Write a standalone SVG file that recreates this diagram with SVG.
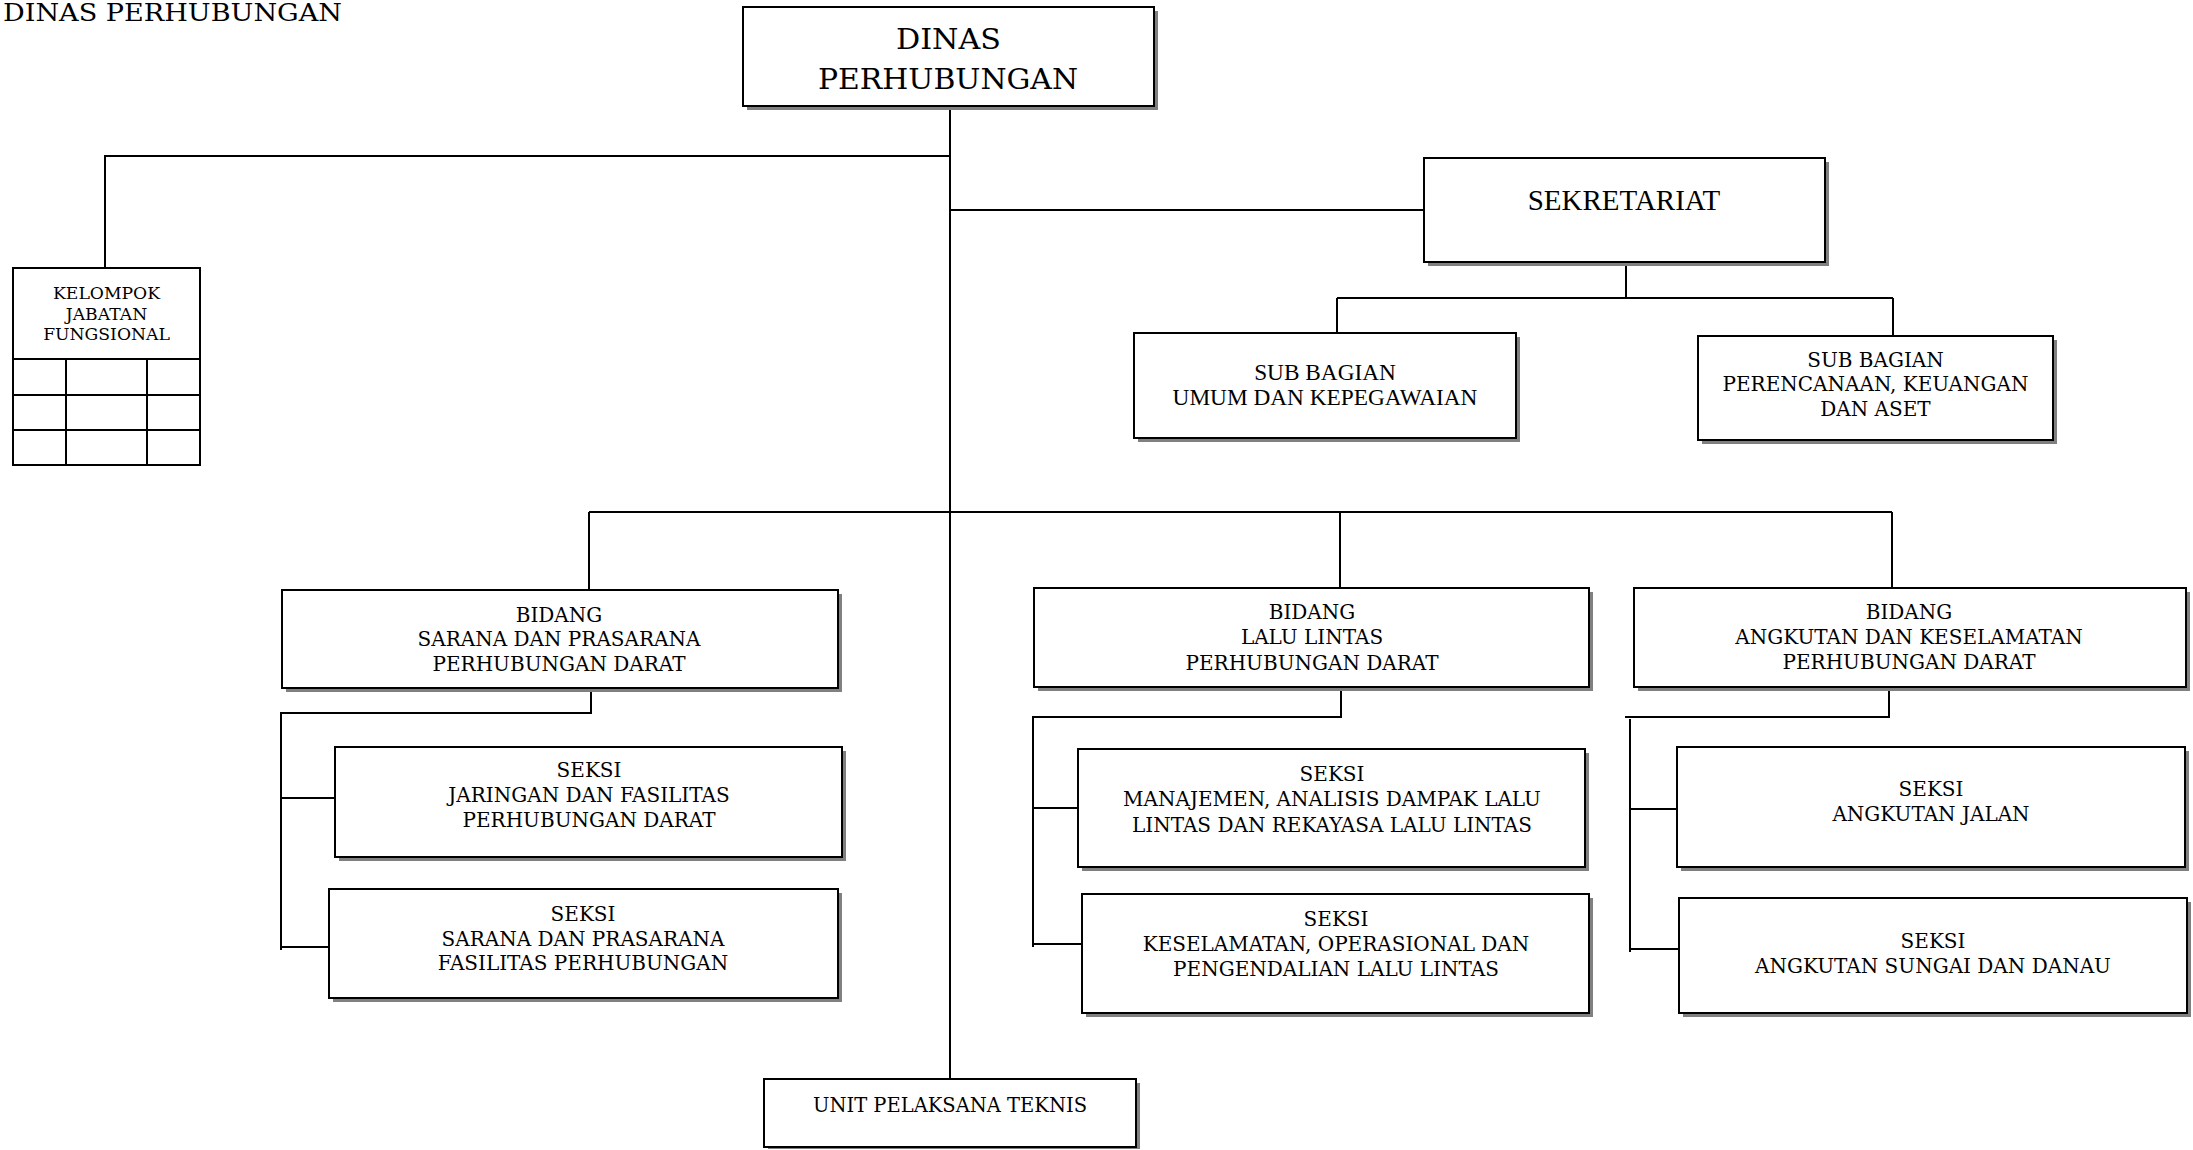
<svg xmlns="http://www.w3.org/2000/svg" width="2193" height="1150" viewBox="0 0 2193 1150">
<style>
.bg{fill:#ffffff}
.sh{fill:#808080}
.box{fill:#ffffff;stroke:#000000;stroke-width:2}
.ln{fill:none;stroke:#000000;stroke-width:2}
.bk{font-family:"DejaVu Serif","Liberation Serif",serif;fill:#000000;text-anchor:middle}
.tm{font-family:"Liberation Serif","DejaVu Serif",serif;fill:#000000;text-anchor:middle}
.f20{font-size:20px}
</style>
<rect class="bg" x="0" y="0" width="2193" height="1150"/>
<text x="3" y="21" style="font-family:'DejaVu Serif','Liberation Serif',serif;font-size:25px" fill="#000" textLength="339" lengthAdjust="spacingAndGlyphs">DINAS PERHUBUNGAN</text>

<g id="connectors">
<path class="ln" d="M950 106 V1079"/>
<path class="ln" d="M950 156 H105 V268"/>
<path class="ln" d="M950 210 H1424"/>
<path class="ln" d="M1626 262 V298 M1337 298 H1893 M1337 298 V333 M1893 298 V336"/>
<path class="ln" d="M589 512 H1892 M589 512 V590 M1340 512 V588 M1892 512 V588"/>
<path class="ln" d="M591 688 V713 H281 V950 M281 798 H335 M281 947 H329"/>
<path class="ln" d="M1341 687 V717 H1033 V947 M1033 808 H1078 M1033 944 H1082"/>
<path class="ln" d="M1889 687 V717 H1625 M1630 719 V952 M1630 809 H1677 M1630 949 H1679"/>
</g>

<g id="dinas">
<rect class="sh" x="747" y="11" width="411" height="99"/>
<rect class="box" x="743" y="7" width="411" height="99"/>
<text class="bk" x="948.5" y="49" font-size="28" textLength="105" lengthAdjust="spacingAndGlyphs">DINAS</text>
<text class="bk" x="948" y="89" font-size="28" textLength="260" lengthAdjust="spacingAndGlyphs">PERHUBUNGAN</text>
</g>

<g id="kelompok">
<rect class="box" x="13" y="268" width="187" height="197"/>
<path class="ln" d="M13 359 H200 M13 395 H200 M13 430 H200 M66 359 V465 M147 359 V465"/>
<text class="bk" x="106.5" y="299" font-size="17.2">KELOMPOK</text>
<text class="bk" x="106.5" y="320" font-size="17.2">JABATAN</text>
<text class="bk" x="106.5" y="340" font-size="17.2">FUNGSIONAL</text>
</g>

<g id="sekretariat">
<rect class="sh" x="1428" y="162" width="401" height="104"/>
<rect class="box" x="1424" y="158" width="401" height="104"/>
<text class="tm" x="1624" y="210" font-size="29">SEKRETARIAT</text>
</g>

<g id="subbag-umum">
<rect class="sh" x="1138" y="337" width="382" height="105"/>
<rect class="box" x="1134" y="333" width="382" height="105"/>
<text class="tm" x="1325" y="380" font-size="23.3">SUB BAGIAN</text>
<text class="tm" x="1325" y="405" font-size="23.3">UMUM DAN KEPEGAWAIAN</text>
</g>

<g id="subbag-perencanaan">
<rect class="sh" x="1702" y="340" width="355" height="104"/>
<rect class="box" x="1698" y="336" width="355" height="104"/>
<text class="bk f20" x="1875.5" y="367">SUB BAGIAN</text>
<text class="bk f20" x="1875.5" y="391">PERENCANAAN, KEUANGAN</text>
<text class="bk f20" x="1875.5" y="416">DAN ASET</text>
</g>

<g id="bidang-sarana">
<rect class="sh" x="286" y="594" width="556" height="98"/>
<rect class="box" x="282" y="590" width="556" height="98"/>
<text class="bk f20" x="559" y="622">BIDANG</text>
<text class="bk f20" x="559" y="646">SARANA DAN PRASARANA</text>
<text class="bk f20" x="559" y="671">PERHUBUNGAN DARAT</text>
</g>

<g id="bidang-lalulintas">
<rect class="sh" x="1038" y="592" width="555" height="99"/>
<rect class="box" x="1034" y="588" width="555" height="99"/>
<text class="bk f20" x="1312" y="619">BIDANG</text>
<text class="bk f20" x="1312" y="644">LALU LINTAS</text>
<text class="bk f20" x="1312" y="670">PERHUBUNGAN DARAT</text>
</g>

<g id="bidang-angkutan">
<rect class="sh" x="1638" y="592" width="552" height="99"/>
<rect class="box" x="1634" y="588" width="552" height="99"/>
<text class="bk f20" x="1909" y="619">BIDANG</text>
<text class="bk f20" x="1909" y="644">ANGKUTAN DAN KESELAMATAN</text>
<text class="bk f20" x="1909" y="669">PERHUBUNGAN DARAT</text>
</g>

<g id="seksi-jaringan">
<rect class="sh" x="339" y="751" width="507" height="110"/>
<rect class="box" x="335" y="747" width="507" height="110"/>
<text class="bk f20" x="589" y="777">SEKSI</text>
<text class="bk f20" x="589" y="802">JARINGAN DAN FASILITAS</text>
<text class="bk f20" x="589" y="827">PERHUBUNGAN DARAT</text>
</g>

<g id="seksi-sarana">
<rect class="sh" x="333" y="893" width="509" height="109"/>
<rect class="box" x="329" y="889" width="509" height="109"/>
<text class="bk f20" x="583" y="921">SEKSI</text>
<text class="bk f20" x="583" y="946">SARANA DAN PRASARANA</text>
<text class="bk f20" x="583" y="970">FASILITAS PERHUBUNGAN</text>
</g>

<g id="seksi-manajemen">
<rect class="sh" x="1082" y="753" width="507" height="118"/>
<rect class="box" x="1078" y="749" width="507" height="118"/>
<text class="bk f20" x="1332" y="781">SEKSI</text>
<text class="bk f20" x="1332" y="806">MANAJEMEN, ANALISIS DAMPAK LALU</text>
<text class="bk f20" x="1332" y="832">LINTAS DAN REKAYASA LALU LINTAS</text>
</g>

<g id="seksi-keselamatan">
<rect class="sh" x="1086" y="898" width="507" height="119"/>
<rect class="box" x="1082" y="894" width="507" height="119"/>
<text class="bk f20" x="1336" y="926">SEKSI</text>
<text class="bk f20" x="1336" y="951">KESELAMATAN, OPERASIONAL DAN</text>
<text class="bk f20" x="1336" y="976">PENGENDALIAN LALU LINTAS</text>
</g>

<g id="seksi-angkutan-jalan">
<rect class="sh" x="1681" y="751" width="508" height="120"/>
<rect class="box" x="1677" y="747" width="508" height="120"/>
<text class="bk f20" x="1931" y="796">SEKSI</text>
<text class="bk f20" x="1931" y="821">ANGKUTAN JALAN</text>
</g>

<g id="seksi-angkutan-sungai">
<rect class="sh" x="1683" y="902" width="508" height="115"/>
<rect class="box" x="1679" y="898" width="508" height="115"/>
<text class="bk f20" x="1933" y="948">SEKSI</text>
<text class="bk f20" x="1933" y="973">ANGKUTAN SUNGAI DAN DANAU</text>
</g>

<g id="upt">
<rect class="sh" x="768" y="1083" width="372" height="66"/>
<rect class="box" x="764" y="1079" width="372" height="68"/>
<text class="bk" x="950" y="1112" font-size="19.5">UNIT PELAKSANA TEKNIS</text>
</g>
</svg>
